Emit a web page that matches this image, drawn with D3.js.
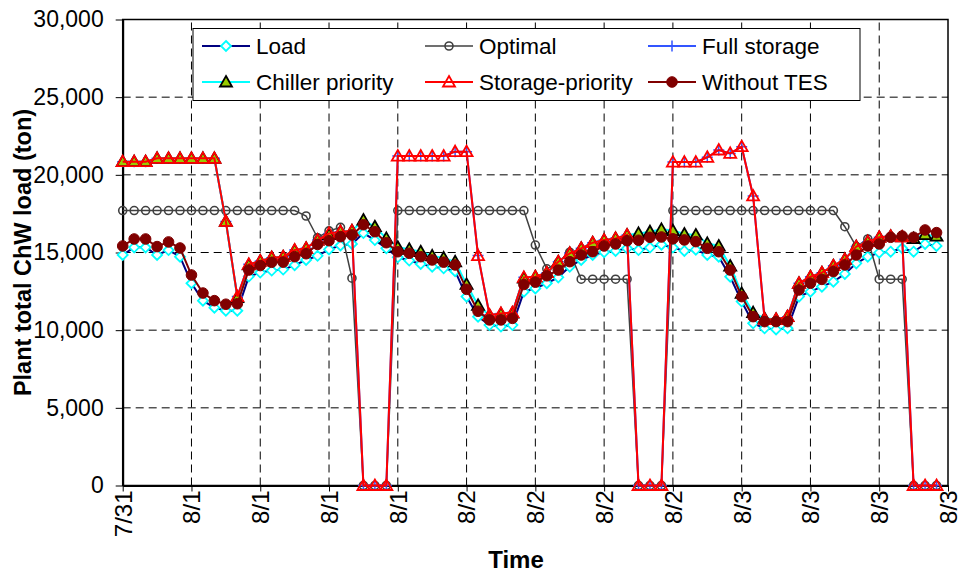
<!DOCTYPE html>
<html>
<head>
<meta charset="utf-8">
<script src="https://cdn.jsdelivr.net/npm/d3@7/dist/d3.min.js"></script>
<style>
  body { margin: 0; background: #fff; }
  svg { display: block; font-family: Arial, "Liberation Sans", sans-serif; }
</style>
</head>
<body>
<svg></svg>
<script>
var width = 961, height = 573,
    margin = { left: 122.7, right: 13, top: 19.5, bottom: 87.5 }

// tick labels every 6 hours, 7/31 18:00 .. 8/3 18:00
var xLabels = ["7/31", "8/1", "8/1", "8/1", "8/1", "8/2", "8/2", "8/2", "8/2", "8/3", "8/3", "8/3", "8/3"]
var yTicks = [0, 5000, 10000, 15000, 20000, 25000, 30000]

// hourly values (ton), 72 hours
var load = [14840, 15330, 15330, 14840, 15160, 14730, 13020, 11900, 11450, 11250, 11250, 13450,
    13710, 13840, 13900, 14180, 14520, 14790, 15200, 15450, 15550, 16250, 15800, 15270,
    14690, 14480, 14260, 14090, 13980, 13800, 12160, 10870, 10330, 10230, 10330, 12480,
    12690, 13020, 13400, 14090, 14520, 14840, 15020, 15100, 15270, 15160, 15320, 15500,
    15320, 15100, 15180, 14840, 14730, 13440, 11840, 10440, 10120, 10050, 10120, 12160,
    12480, 12800, 13120, 13620, 14300, 14730, 14990, 15050, 15270, 15050, 15550, 15420]

var optimal = [17700, 17700, 17700, 17700, 17700, 17700, 17700, 17700, 17700, 17700, 17700, 17700,
    17700, 17700, 17700, 17700, 17350, 15950, 16390, 16620, 13350, 0, 0, 0,
    17700, 17700, 17700, 17700, 17700, 17700, 17700, 17700, 17700, 17700, 17700, 17700,
    15480, 13950, 14350, 15020, 13280, 13280, 13280, 13280, 13280, 0, 0, 0,
    17700, 17700, 17700, 17700, 17700, 17700, 17700, 17700, 17700, 17700, 17700, 17700,
    17700, 17700, 17700, 16660, 15380, 15870, 13280, 13280, 13280, 0, 0, 0]

var fullStorage = [20850, 20850, 20850, 21060, 21060, 21060, 21060, 21060, 21060, 17000, 12160, 14240,
    14450, 14670, 14730, 15160, 15270, 15800, 16230, 16340, 16390, 0, 0, 0,
    21210, 21210, 21210, 21210, 21210, 21490, 21490, 14800, 10980, 11080, 11130, 13400,
    13440, 13700, 14400, 14950, 15270, 15630, 15800, 15910, 16130, 0, 0, 0,
    20820, 20820, 20820, 21130, 21600, 21380, 21810, 18640, 10700, 10700, 10870, 13020,
    13440, 13700, 14150, 14560, 15380, 15700, 15980, 16050, 16000, 0, 0, 0]

var chillerPriority = [20850, 20850, 20850, 21060, 21060, 21060, 21060, 21060, 21060, 17000, 12100, 14200,
    14450, 14680, 14730, 15140, 15270, 15800, 16150, 16350, 16400, 17090, 16660, 15910,
    15340, 15210, 15050, 14780, 14650, 14400, 12950, 11600, 10950, 11050, 11100, 13350,
    13440, 13700, 14400, 14950, 15270, 15630, 15800, 15910, 16130, 16230, 16340, 16490,
    16410, 16190, 16130, 15590, 15420, 14130, 12370, 11130, 10760, 10700, 10870, 13020,
    13440, 13700, 14150, 14560, 15380, 15700, 15980, 16050, 16000, 15900, 16150, 16050]

var storagePriority = [20850, 20850, 20850, 21060, 21060, 21060, 21060, 21060, 21060, 17000, 12160, 14240,
    14450, 14670, 14730, 15160, 15270, 15800, 16230, 16340, 16390, 0, 0, 0,
    21210, 21210, 21210, 21210, 21210, 21490, 21490, 14800, 10980, 11080, 11130, 13400,
    13440, 13700, 14400, 14950, 15270, 15630, 15800, 15910, 16130, 0, 0, 0,
    20820, 20820, 20820, 21130, 21600, 21380, 21810, 18640, 10700, 10700, 10870, 13020,
    13440, 13700, 14150, 14560, 15380, 15700, 15980, 16050, 16000, 0, 0, 0]

var withoutTES = [15420, 15870, 15870, 15380, 15680, 15290, 13550, 12390, 11900, 11670, 11700, 13870,
    14160, 14370, 14380, 14730, 14920, 15520, 15760, 16020, 16130, 16790, 16340, 15630,
    15050, 14950, 14730, 14520, 14380, 14200, 12630, 11220, 10660, 10660, 10760, 12940,
    13090, 13500, 13870, 14410, 14840, 15050, 15420, 15550, 15760, 15790, 15980, 16000,
    15880, 15810, 15700, 15270, 15050, 13870, 12160, 10870, 10550, 10550, 10550, 12590,
    13020, 13270, 13770, 14200, 14840, 15420, 15550, 15980, 16060, 15980, 16450, 16280]

var diamond = "M0,-5L5,0L0,5L-5,0Z",
    triangle = "M0,-6L6,4.5L-6,4.5Z",
    plus = "M-5.5,0H5.5M0,-5.5V5.5"

// draw order: bottom to top
var series = [
    { name: "Load", values: load, line: "#000080", lw: 2, marker: "diamond", mStroke: "#00FFFF", mFill: "#fff" },
    { name: "Optimal", values: optimal, line: "#404040", lw: 1.5, marker: "ring", mStroke: "#404040", mFill: "none" },
    { name: "Full storage", values: fullStorage, line: "#3355FF", lw: 2, marker: "plus", mStroke: "#3355FF", mFill: "none" },
    { name: "Chiller priority", values: chillerPriority, line: "#00FFFF", lw: 2, marker: "triangle", mStroke: "#000", mFill: "#99CC00" },
    { name: "Storage-priority", values: storagePriority, line: "#FF0000", lw: 2, marker: "triangle", mStroke: "#FF0000", mFill: "none" },
    { name: "Without TES", values: withoutTES, line: "#800000", lw: 2, marker: "dot", mStroke: "#800000", mFill: "#800000" }
]

var legendOrder = ["Load", "Optimal", "Full storage", "Chiller priority", "Storage-priority", "Without TES"]

var svg = d3.select("svg").attr("width", width).attr("height", height)

var x = d3.scaleLinear().domain([0, 72]).range([margin.left, width - margin.right])
var y = d3.scaleLinear().domain([0, 30000]).range([height - margin.bottom, margin.top])

// gridlines
svg.append("g").selectAll("line")
    .data(yTicks.slice(1, -1))
    .enter().append("line")
    .attr("x1", x(0)).attr("x2", x(72))
    .attr("y1", function(d) { return y(d) }).attr("y2", function(d) { return y(d) })
    .attr("stroke", "#000").attr("stroke-dasharray", "8,5")

svg.append("g").selectAll("line")
    .data(d3.range(6, 72, 6))
    .enter().append("line")
    .attr("y1", y(0)).attr("y2", y(30000))
    .attr("x1", function(d) { return x(d) }).attr("x2", function(d) { return x(d) })
    .attr("stroke", "#000").attr("stroke-dasharray", "8,5")

// plot frame
svg.append("rect")
    .attr("x", x(0)).attr("y", y(30000))
    .attr("width", x(72) - x(0)).attr("height", y(0) - y(30000))
    .attr("fill", "none").attr("stroke", "#000").attr("stroke-width", 1.5)

// axes
var yAxis = d3.axisLeft(y).tickValues(yTicks).tickFormat(d3.format(",")).tickSizeInner(7).tickSizeOuter(0).tickPadding(12)
var gy = svg.append("g").attr("transform", "translate(" + x(0) + ",0)").call(yAxis)
gy.select(".domain").attr("stroke-width", 2)
gy.selectAll("text").attr("font-size", 23).attr("fill", "#000").attr("font-family", "Arial, 'Liberation Sans', sans-serif")

var xAxis = d3.axisBottom(x).tickValues(d3.range(0, 73, 6))
    .tickFormat(function(d, i) { return xLabels[i] }).tickSizeInner(6).tickSizeOuter(0)
var gx = svg.append("g").attr("transform", "translate(0," + y(0) + ")").call(xAxis)
gx.select(".domain").attr("stroke-width", 2)
gx.selectAll("text")
    .attr("font-size", 24).attr("fill", "#000").attr("font-family", "Arial, 'Liberation Sans', sans-serif")
    .attr("text-anchor", "end")
    .attr("transform", "rotate(-90)")
    .attr("x", -5).attr("y", 0).attr("dy", "0.35em")

// axis titles
svg.append("text")
    .attr("transform", "translate(31," + ((y(0) + y(30000)) / 2) + ") rotate(-90)")
    .attr("text-anchor", "middle")
    .attr("font-size", 23.5).attr("font-weight", "bold")
    .text("Plant total ChW load (ton)")

svg.append("text")
    .attr("x", 516).attr("y", 568)
    .attr("text-anchor", "middle")
    .attr("font-size", 24).attr("font-weight", "bold")
    .text("Time")

function drawMarker(sel, s) {
    if (s.marker == "dot") {
        sel.append("circle").attr("r", 5.3).attr("fill", s.mFill).attr("stroke", s.mStroke)
    } else if (s.marker == "ring") {
        sel.append("circle").attr("r", 4).attr("fill", "none").attr("stroke", s.mStroke).attr("stroke-width", 1.6)
    } else {
        var p = s.marker == "diamond" ? diamond : s.marker == "triangle" ? triangle : plus
        sel.append("path").attr("d", p).attr("fill", s.mFill).attr("stroke", s.mStroke)
            .attr("stroke-width", s.marker == "plus" ? 1.5 : 1.8)
    }
}

var line = d3.line()
    .x(function(d, i) { return x(i) })
    .y(function(d) { return y(d) })

series.forEach(function(s) {
    var g = svg.append("g")
    g.append("path").datum(s.values)
        .attr("d", line)
        .attr("fill", "none")
        .attr("stroke", s.line)
        .attr("stroke-width", s.lw)
    g.selectAll("g.m")
        .data(s.values)
        .enter().append("g").attr("class", "m")
        .attr("transform", function(d, i) { return "translate(" + x(i) + "," + y(d) + ")" })
        .each(function() { drawMarker(d3.select(this), s) })
})

// legend
var legend = svg.append("g")
legend.append("rect")
    .attr("x", 193).attr("y", 28.5).attr("width", 667).attr("height", 72)
    .attr("fill", "#fff").attr("stroke", "#000")

var colX = [202, 425, 648], rowY = [46, 82]
legendOrder.forEach(function(name, k) {
    var s = series.filter(function(t) { return t.name == name })[0]
    var lx = colX[k % 3], ly = rowY[Math.floor(k / 3)]
    var item = legend.append("g")
    item.append("line").attr("x1", lx).attr("x2", lx + 48).attr("y1", ly).attr("y2", ly)
        .attr("stroke", s.line).attr("stroke-width", s.lw)
    drawMarker(item.append("g").attr("transform", "translate(" + (lx + 24) + "," + ly + ")"), s)
    item.append("text").attr("x", lx + 54).attr("y", ly).attr("dy", "0.36em")
        .attr("font-size", 22.5).text(name)
})
</script>
</body>
</html>
